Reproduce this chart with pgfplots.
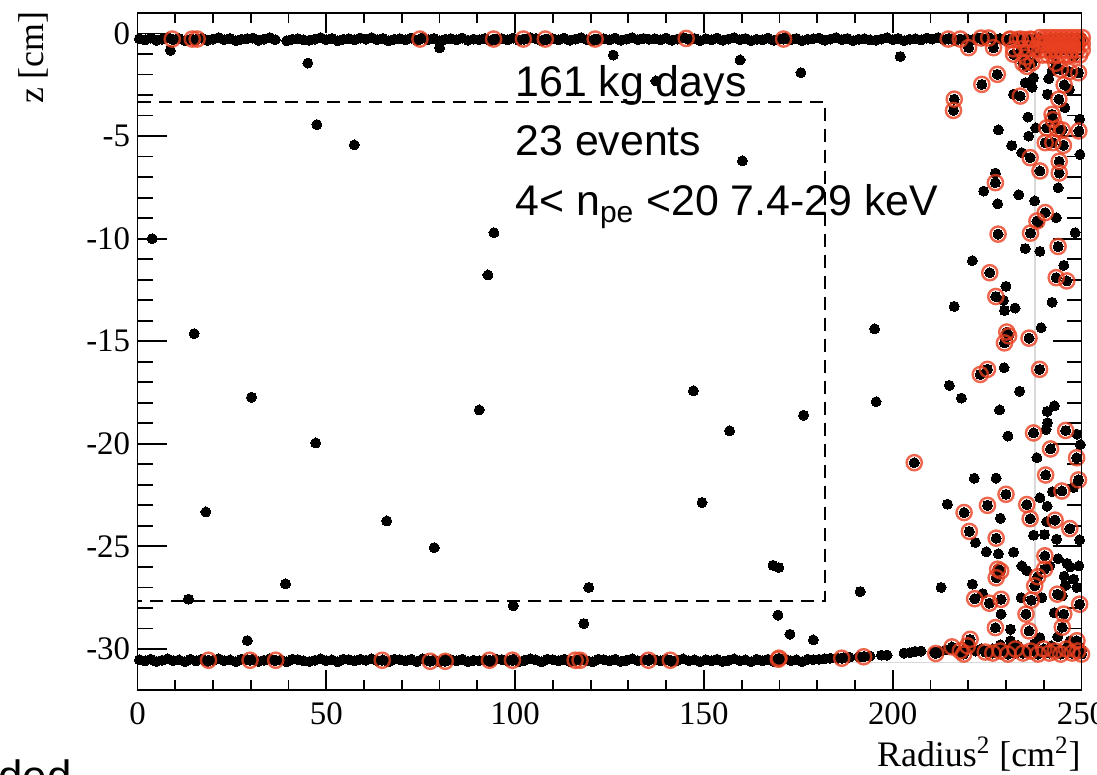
\documentclass[border=0pt]{standalone}
\usepackage{fontspec}
\setmainfont{Liberation Serif}
\newfontfamily\annot{Liberation Sans}
\usepackage{pgfplots}
\pgfplotsset{compat=1.18}
\usepackage{pgfplotstable}
\definecolor{rootred}{RGB}{232,64,32}

% events marked with a red circle (a black dot lies under each)
\pgfplotstableread{
x y
9.2 -0.27
14.5 -0.27
15.8 -0.27
74.8 -0.27
94.3 -0.27
102.2 -0.27
108 -0.27
121.2 -0.27
145.3 -0.24
171.1 -0.27
214.7 -0.27
217.9 -0.27
223.4 -0.22
225.4 -0.22
220.1 -0.69
226.7 -0.69
231.1 -0.27
233.8 -0.27
236.4 -0.27
232 -1.01
234.5 -1.45
235.3 -1.15
236.9 -1.42
235.5 -1.6
227.7 -1.99
223.6 -2.48
216.3 -3.2
216.1 -3.75
233.8 -3.05
243.2 -1.45
244.4 -1.75
246.8 -1.85
249.2 -1.91
245.4 -2.5
244 -3.2
242.2 -3.94
240.8 -4.6
242.5 -4.2
243.6 -4.65
244.9 -4.7
242.4 -5.32
240.4 -5.32
245.2 -5.45
249.3 -4.75
236.4 -6.05
239 -6.7
244.1 -6.23
244.1 -6.8
227.2 -7.27
240.4 -8.73
238.2 -9.14
236.5 -9.73
227.9 -9.78
243.8 -10.38
225.7 -11.66
243.3 -11.9
246.1 -12.06
227.3 -12.82
230.2 -14.55
230.7 -14.74
229.6 -15.08
236.1 -14.85
223.2 -16.62
225.1 -16.37
238.9 -16.37
237.3 -19.47
245.8 -19.35
241.8 -20.25
248.7 -20.68
205.7 -20.92
240.5 -21.52
249.2 -21.76
244.8 -22.3
230 -22.46
225.1 -23.0
218.9 -23.35
220.3 -24.27
235.5 -22.96
236.4 -23.65
243 -23.72
246.9 -24.13
227.4 -24.6
240.3 -25.46
227.8 -26.11
228.6 -26.2
227.4 -26.53
240.2 -26.11
238.4 -26.48
237.6 -26.92
221.7 -27.55
225.6 -27.77
228.7 -27.58
236.7 -27.62
243.6 -27.33
249.5 -27.82
235.3 -28.3
245.3 -28.3
227.2 -28.96
236.1 -29.12
244.9 -28.94
248.8 -29.6
220.5 -29.53
215.7 -29.9
217.9 -30.1
218.8 -30.25
219.8 -29.85
211.4 -30.22
192.3 -30.38
186.5 -30.45
169.7 -30.5
169.9 -30.45
141.1 -30.55
135.3 -30.55
117.2 -30.55
115.9 -30.55
99.3 -30.55
93.2 -30.55
81.5 -30.6
77.5 -30.6
64.8 -30.55
36.6 -30.55
29.8 -30.55
18.8 -30.55
224.5 -30.15
226.5 -30.2
228.5 -30.1
230.5 -30.25
232.5 -30.0
234.5 -30.2
236.5 -30.1
238.5 -30.25
240 -30.0
241.5 -30.2
243 -30.1
244.5 -30.25
246 -30.0
247.5 -30.2
249 -30.1
250 -30.25
}\redpts

% dense cluster of marked events in the top right corner
\pgfplotstableread{
x y
231 -0.3
232 -0.75
233 -0.3
234 -0.75
235 -0.3
236 -0.75
237 -0.3
238 -0.75
239.0 -0.2
239.0 -0.5
239.0 -0.8
239.7 -0.35
239.7 -1.05
240.4 -0.2
240.4 -0.5
240.4 -0.8
241.1 -0.35
241.1 -1.05
241.8 -0.2
241.8 -0.5
241.8 -0.8
242.5 -0.35
242.5 -1.05
243.2 -0.2
243.2 -0.5
243.2 -0.8
243.9 -0.35
243.9 -1.05
244.6 -0.2
244.6 -0.5
244.6 -0.8
245.3 -0.35
245.3 -1.05
246.0 -0.2
246.0 -0.5
246.0 -0.8
246.7 -0.35
246.7 -1.05
247.4 -0.2
247.4 -0.5
247.4 -0.8
248.1 -0.35
248.1 -1.05
248.8 -0.2
248.8 -0.5
248.8 -0.8
249.5 -0.35
249.5 -1.05
250.2 -0.2
250.2 -0.5
250.2 -0.8
}\redmass

% other events (black dots only)
\pgfplotstableread{
x y
3.9 -10.0
8.7 -0.82
45.1 -1.44
47.5 -4.44
57.4 -5.43
80 -0.7
15.0 -14.63
30.2 -17.73
47.2 -19.96
18.1 -23.32
66.0 -23.76
78.6 -25.06
39.2 -26.83
13.5 -27.57
29.1 -29.59
90.5 -18.35
92.8 -11.77
94.4 -9.71
160.2 -6.21
147.2 -17.42
156.8 -19.37
176.4 -18.61
149.5 -22.86
168.3 -25.92
169.8 -26.03
119.5 -27.0
99.5 -27.9
118.2 -28.76
169.6 -28.35
172.8 -29.28
179.0 -29.56
191.4 -27.2
126.0 -1.05
159.6 -1.29
175.7 -1.91
137.3 -2.31
202.0 -1.12
195.2 -14.4
195.6 -17.95
221.1 -11.07
216.3 -13.3
215 -17.15
218.2 -17.77
214.5 -22.94
212.8 -27.0
237.3 -2.15
235.1 -2.4
236.9 -2.62
232 -2.96
241.3 -2.2
242.2 -1.83
246.8 -2.72
241 -2.96
245.6 -3.61
235.8 -4.07
249.5 -4.18
249.6 -5.9
228 -4.7
236 -5.0
237.9 -4.6
231.5 -5.46
234.2 -5.81
243.8 -7.52
227.2 -6.8
224.1 -7.68
227.8 -8.3
233.4 -7.86
237.6 -8.16
243.3 -8.98
248.3 -9.71
238.6 -9.22
235.1 -10.48
239 -10.62
245.3 -11.3
230 -12.32
229.3 -13.0
229.6 -13.5
232.4 -13.38
242.2 -13.1
239.3 -14.34
229.5 -16.29
233.6 -17.44
228.3 -18.35
240.9 -18.42
242.8 -18.15
241 -18.97
240.6 -19.3
230.5 -19.62
248.8 -19.53
249.7 -20.04
238.2 -20.68
221.6 -21.68
227.4 -21.67
242.3 -22.33
247.9 -22.13
221.9 -24.81
239 -22.63
240.9 -23.04
228.5 -23.63
240.8 -23.79
237.3 -24.45
240.2 -24.42
243.4 -24.65
249.5 -24.68
228 -25.36
232 -25.28
224.8 -25.26
243.8 -25.6
246.2 -25.83
249.3 -25.95
234.2 -25.95
235.5 -26.18
241.6 -25.95
245.4 -26.45
247 -26.0
247.9 -26.6
245.7 -26.9
248.8 -27.0
221.1 -26.84
223.8 -27.3
234 -27.5
239.5 -27.5
244.9 -27.41
228.7 -28.3
242.8 -28.23
231.2 -29.04
243.7 -29.4
231.2 -29.6
239 -29.45
247 -29.6
233.2 -29.85
}\blackpts

\begin{document}
\begin{tikzpicture}
\useasboundingbox (0,0) rectangle (548.5bp,387.5bp);
\pgfplotsset{myaxis/.style={at={(68.75bp,42.5bp)}, anchor=south west,
  scale only axis, width=472bp, height=338.5bp,
  xmin=0, xmax=250, ymin=-32, ymax=1, clip=false,
  axis line style={line width=0.9bp, black},
  tick style={line width=0.9bp, black}, tick align=inside,
  /pgf/number format/assume math mode=true,
  tick label style={font=\fontsize{16.5}{19}\selectfont}},
  dot/.style={only marks, mark=*, mark size=2.5bp, black, mark options={line width=0pt}},
  ring/.style={only marks, mark=o, mark size=3.8bp, rootred, mark options={line width=1.2bp, draw opacity=0.8}}}
\begin{axis}[myaxis, xtick=\empty, ytick={-30,-25,...,0}, minor y tick num=4,
  major tick length=14.5bp, minor tick length=7.5bp,
  yticklabel style={inner sep=0pt, xshift=-3.5bp}]
\addplot[gray!30, line width=0.9bp] coordinates {(237.7,-0.3) (237.7,-30.66) (0,-30.66)};
\addplot[black, line width=0.8bp, dash pattern=on 6.5bp off 4bp]
  coordinates {(0,-3.33) (182,-3.33) (182,-27.67) (0,-27.67)};
% top band
\addplot[dot] coordinates {
(0.5,-0.25)(2,-0.31)(3.5,-0.22)(5,-0.33)(6.5,-0.27)(8,-0.2)(9.5,-0.3)(11,-0.24)(12.5,-0.35)(14,-0.28)
(15.5,-0.31)(17,-0.22)(18.5,-0.33)(20,-0.27)(21.5,-0.2)(23,-0.3)(24.5,-0.24)(26,-0.35)(27.5,-0.28)(29,-0.25)
(30.5,-0.22)(32,-0.33)(33.5,-0.27)(35,-0.2)(36.5,-0.3)(39.5,-0.35)(41,-0.28)(42.5,-0.25)(44,-0.31)
(45.5,-0.33)(47,-0.27)(48.5,-0.2)(50,-0.3)(51.5,-0.24)(53,-0.35)(54.5,-0.28)(56,-0.25)(57.5,-0.31)(59,-0.22)
(60.5,-0.27)(62,-0.2)(63.5,-0.3)(65,-0.24)(66.5,-0.35)(68,-0.28)(69.5,-0.25)(71,-0.31)(72.5,-0.22)(74,-0.33)
(75.5,-0.2)(77,-0.3)(78.5,-0.24)(80,-0.35)(81.5,-0.28)(83,-0.25)(84.5,-0.31)(86,-0.22)(87.5,-0.33)(89,-0.27)
(90.5,-0.3)(92,-0.24)(93.5,-0.35)(95,-0.28)(96.5,-0.25)(98,-0.31)(99.5,-0.22)(101,-0.33)(102.5,-0.27)(104,-0.2)
(105.5,-0.24)(107,-0.35)(108.5,-0.28)(110,-0.25)(111.5,-0.31)(113,-0.22)(114.5,-0.33)(116,-0.27)(117.5,-0.2)(119,-0.3)
(120.5,-0.35)(122,-0.28)(123.5,-0.25)(125,-0.31)(126.5,-0.22)(128,-0.33)(129.5,-0.27)(131,-0.2)(132.5,-0.3)(134,-0.24)
(135.5,-0.28)(137,-0.25)(138.5,-0.31)(140,-0.22)(141.5,-0.33)(143,-0.27)(144.5,-0.2)(146,-0.3)(147.5,-0.24)(149,-0.35)
(150.5,-0.25)(152,-0.31)(153.5,-0.22)(155,-0.33)(156.5,-0.27)(158,-0.2)(159.5,-0.3)(161,-0.24)(162.5,-0.35)(164,-0.28)
(165.5,-0.31)(167,-0.22)(168.5,-0.33)(170,-0.27)(171.5,-0.2)(173,-0.3)(174.5,-0.24)(176,-0.35)(177.5,-0.28)(179,-0.25)
(180.5,-0.22)(182,-0.33)(183.5,-0.27)(185,-0.2)(186.5,-0.3)(188,-0.24)(189.5,-0.35)(191,-0.28)(192.5,-0.25)(194,-0.31)
(195.5,-0.33)(197,-0.27)(198.5,-0.2)(200,-0.3)(201.5,-0.24)(203,-0.35)(204.5,-0.28)(206,-0.25)(207.5,-0.31)(209,-0.22)
(210.5,-0.27)(212,-0.2)(213.5,-0.3)(215,-0.24)(216.5,-0.35)(218,-0.28)(219.5,-0.25)(221,-0.31)(222.5,-0.22)(224,-0.33)
(225.5,-0.2)(227,-0.3)(228.5,-0.24)(230,-0.35)
(231,-0.3)(232.5,-0.2)(234,-0.35)(235.5,-0.25)(237,-0.3)(238.5,-0.2)(240,-0.35)(241.5,-0.25)(243,-0.3)(244.5,-0.2)(246,-0.35)(247.5,-0.25)(249,-0.3)(250,-0.2)
(234,-0.8)(236,-0.75)(238,-0.9)(240,-0.7)(242,-1.0)(244,-0.9)(246,-0.8)(248,-1.1)(249.5,-0.6)
};
% bottom band
\addplot[dot] coordinates {
(0.5,-30.52)(2,-30.58)(3.5,-30.5)(5,-30.61)(6.5,-30.55)(8,-30.48)(9.5,-30.57)(11,-30.53)(12.5,-30.62)(14,-30.5)
(15.5,-30.58)(17,-30.5)(18.5,-30.61)(20,-30.55)(21.5,-30.48)(23,-30.57)(24.5,-30.53)(26,-30.62)(27.5,-30.5)(29,-30.52)
(30.5,-30.5)(32,-30.61)(33.5,-30.55)(35,-30.48)(36.5,-30.57)(38,-30.53)(39.5,-30.62)(41,-30.5)(42.5,-30.52)(44,-30.58)
(45.5,-30.61)(47,-30.55)(48.5,-30.48)(50,-30.57)(51.5,-30.53)(53,-30.62)(54.5,-30.5)(56,-30.52)(57.5,-30.58)(59,-30.5)
(60.5,-30.55)(62,-30.48)(63.5,-30.57)(65,-30.53)(66.5,-30.62)(68,-30.5)(69.5,-30.52)(71,-30.58)(72.5,-30.5)(74,-30.61)
(75.5,-30.48)(77,-30.57)(78.5,-30.53)(80,-30.62)(81.5,-30.5)(83,-30.52)(84.5,-30.58)(86,-30.5)(87.5,-30.61)(89,-30.55)
(90.5,-30.57)(92,-30.53)(93.5,-30.62)(95,-30.5)(96.5,-30.52)(98,-30.58)(99.5,-30.5)(101,-30.61)(102.5,-30.55)(104,-30.48)
(105.5,-30.53)(107,-30.62)(108.5,-30.5)(110,-30.52)(111.5,-30.58)(113,-30.5)(114.5,-30.61)(116,-30.55)(117.5,-30.48)(119,-30.57)
(120.5,-30.62)(122,-30.5)(123.5,-30.52)(125,-30.58)(126.5,-30.5)(128,-30.61)(129.5,-30.55)(131,-30.48)(132.5,-30.57)(134,-30.53)
(135.5,-30.5)(137,-30.52)(138.5,-30.58)(140,-30.5)(141.5,-30.61)(143,-30.55)(144.5,-30.48)(146,-30.57)(147.5,-30.53)(149,-30.62)
(150.5,-30.52)(152,-30.58)(153.5,-30.5)(155,-30.61)(156.5,-30.55)(158,-30.48)(159.5,-30.57)(161,-30.53)(162.5,-30.62)(164,-30.5)
(165.5,-30.58)(167,-30.5)(168.5,-30.61)(170,-30.55)(171.5,-30.48)(173,-30.57)(174.5,-30.53)(176,-30.62)(177.5,-30.5)(179,-30.52)
(180.5,-30.5)(182,-30.48)(183.5,-30.45)(185.5,-30.45)(187,-30.42)(188.5,-30.4)(191,-30.38)(192.5,-30.36)(194,-30.35)(197,-30.3)(198.5,-30.3)
(203,-30.2)(204.5,-30.18)(206,-30.12)(207.5,-30.1)(211,-30.15)(212.5,-30.12)(214,-30.05)
(216,-30.0)(217.5,-30.1)(219,-30.05)(220.5,-29.95)(222,-30.1)(223.5,-30.0)(225,-30.1)(226.5,-30.0)(228,-30.15)(229.5,-30.0)
(231,-30.1)(232.5,-30.2)(234,-30.05)(235.5,-30.15)(237,-30.0)(238.5,-30.2)(240,-30.05)(241.5,-30.15)(243,-30.0)(244.5,-30.2)
(246,-30.1)(247.5,-29.95)(249,-30.15)(250,-30.05)
(228.5,-29.8)(233,-29.85)(237.5,-29.75)(242,-29.85)(246.5,-29.8)(249.5,-29.9)
};
\addplot[dot] table[x=x,y=y] {\blackpts};
\addplot[dot] table[x=x,y=y] {\redpts};
\addplot[ring] table[x=x,y=y] {\redpts};
\addplot[ring] table[x=x,y=y] {\redmass};
\node[anchor=base west, inner sep=0pt, font=\annot\fontsize{21.5}{24}\selectfont] at (axis cs:100,-3.05) {161 kg days};
\node[anchor=base west, inner sep=0pt, font=\annot\fontsize{21.5}{24}\selectfont] at (axis cs:100,-5.97) {23 events};
\node[anchor=base west, inner sep=0pt, font=\annot\fontsize{21.5}{24}\selectfont] at (axis cs:100,-8.89) {4< n\textsubscript{pe} <20 7.4-29 keV};
\end{axis}
\begin{axis}[myaxis, ytick=\empty, xtick={0,50,...,250}, minor x tick num=4,
  major tick length=10bp, minor tick length=5bp,
  xticklabel style={inner sep=0pt, yshift=-6bp}]
\end{axis}
\node[rotate=90, anchor=east, inner sep=0pt, font=\fontsize{18}{20}\selectfont] at (16.5bp,382bp) {z [cm]};
\node[anchor=base east, inner sep=0pt, font=\fontsize{18}{20}\selectfont] at (540.5bp,4.5bp) {Radius\textsuperscript{2} [cm\textsuperscript{2}]};
\node[anchor=base west, inner sep=0pt, font=\annot\fontsize{22}{24}\selectfont] at (-1bp,-8bp) {ded};
\end{tikzpicture}
\end{document}
